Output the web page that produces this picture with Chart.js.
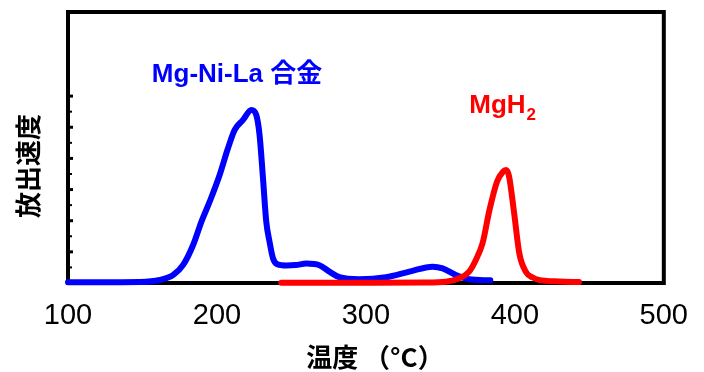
<!DOCTYPE html>
<html>
<head>
<meta charset="utf-8">
<script src="https://cdn.jsdelivr.net/npm/chart.js@4.4.1/dist/chart.umd.min.js"></script>
<style>
  html, body { margin: 0; padding: 0; background: #fff; }
  #wrap { position: relative; width: 704px; height: 372px; }
</style>
</head>
<body>
<div id="wrap"><canvas id="chart" width="704" height="372"></canvas></div>
<script>
// axis ticks
const xTicks = [100, 200, 300, 400, 500];
const yTicks = [1, 2, 3, 4, 5, 6, 7, 8, 9, 10, 11, 12];

// Mg-Ni-La alloy (blue)
const alloyTemp = [100, 130, 148.2, 161.6, 170.6, 177.3, 184.0, 189.6, 195.1, 201.8, 207.4, 211.9, 217.5, 223.1, 226.4, 228.6, 230.9, 233.1, 235.3, 237.6, 240.5, 246.5, 253, 259.9, 268.8, 275.5, 282.2, 295.6, 313.5, 329.2, 344.8, 351.5, 360.4, 369.3, 383.5];
const alloyRate = [0.05, 0.05, 0.06, 0.19, 0.51, 1.16, 2.44, 3.94, 5.22, 6.94, 8.65, 9.83, 10.47, 11.11, 10.79, 9.51, 6.74, 3.94, 2.65, 1.59, 1.2, 1.12, 1.15, 1.25, 1.14, 0.73, 0.37, 0.24, 0.37, 0.73, 1.05, 0.94, 0.51, 0.24, 0.17];

// MgH2 (red)
const mgh2Temp = [243.2, 300, 340, 353.7, 362.7, 369.3, 373.8, 378.3, 383, 388, 392, 394, 396, 399.5, 403, 407.5, 412, 416, 430, 443];
const mgh2Rate = [0.02, 0.02, 0.03, 0.08, 0.3, 0.73, 1.48, 2.55, 4.7, 6.5, 7.15, 7.25, 6.9, 4.5, 1.9, 0.7, 0.35, 0.2, 0.1, 0.06];

// text labels placed in data units
const alloyLabel = { text: "Mg-Ni-La 合金", x: 156.3, y: 12.9 };
const mgh2Label = { text: "MgH", sub: "2", x: 369.4, y: 10.9 };

const toPoints = (xs, ys) => xs.map((x, i) => ({ x: x, y: ys[i] }));

const framePlugin = {
  id: "frame",
  beforeDatasetsDraw(chart) {
    const { ctx, chartArea: a, scales: { y } } = chart;
    ctx.save();
    ctx.strokeStyle = "#000";
    ctx.lineWidth = 4;
    ctx.strokeRect(a.left, a.top, a.right - a.left, a.bottom - a.top);
    // little inward ticks on the left edge
    y.ticks.forEach((t) => {
      const py = y.getPixelForValue(t.value);
      const major = t.value % 2 === 0;
      ctx.lineWidth = major ? 3 : 2;
      ctx.beginPath();
      ctx.moveTo(a.left, py);
      ctx.lineTo(a.left + (major ? 5 : 4), py);
      ctx.stroke();
    });
    ctx.restore();
  },
  afterDraw(chart) {
    const { ctx, chartArea: a, scales: { x, y } } = chart;
    ctx.save();
    ctx.fillStyle = "#000";
    ctx.textBaseline = "middle";
    ctx.textAlign = "center";

    // x title
    ctx.font = 'bold 26px "Noto Sans CJK JP", sans-serif';
    ctx.fillText("温度 （°C）", (a.left + a.right) / 2 + 9, 357);

    // y title
    ctx.save();
    ctx.translate(28, 166);
    ctx.rotate(-Math.PI / 2);
    ctx.font = 'bold 26px "Noto Sans CJK JP", sans-serif';
    ctx.fillText("放出速度", 0, 0);
    ctx.restore();

    // series labels
    ctx.textAlign = "left";
    ctx.textBaseline = "alphabetic";
    ctx.fillStyle = "#0000ff";
    ctx.font = 'bold 26px "Liberation Sans", "Noto Sans CJK JP", sans-serif';
    ctx.fillText(alloyLabel.text, x.getPixelForValue(alloyLabel.x), y.getPixelForValue(alloyLabel.y));

    ctx.fillStyle = "#ff0000";
    const lx = x.getPixelForValue(mgh2Label.x);
    const ly = y.getPixelForValue(mgh2Label.y);
    ctx.fillText(mgh2Label.text, lx, ly);
    const w = ctx.measureText(mgh2Label.text).width;
    ctx.font = 'bold 17px "Liberation Sans", sans-serif';
    ctx.fillText(mgh2Label.sub, lx + w + 1, ly + 7);
    ctx.restore();
  }
};

new Chart(document.getElementById("chart"), {
  type: "line",
  data: {
    datasets: [
      {
        label: "MgH2",
        data: toPoints(mgh2Temp, mgh2Rate),
        borderColor: "#ff0000",
        borderWidth: 6,
        pointRadius: 0,
        cubicInterpolationMode: "monotone",
        borderCapStyle: "round",
        borderJoinStyle: "round",
        clip: false,
        order: 0
      },
      {
        label: "Mg-Ni-La",
        data: toPoints(alloyTemp, alloyRate),
        borderColor: "#0000ff",
        borderWidth: 6,
        pointRadius: 0,
        cubicInterpolationMode: "monotone",
        borderCapStyle: "round",
        borderJoinStyle: "round",
        clip: false,
        order: 1
      }
    ]
  },
  options: {
    responsive: false,
    animation: false,
    devicePixelRatio: 1,
    layout: { padding: { top: 12, right: 39, left: 0, bottom: 0 } },
    plugins: {
      legend: { display: false },
      tooltip: { enabled: false }
    },
    scales: {
      x: {
        type: "linear",
        min: 100,
        max: 500,
        grid: { display: false, drawTicks: false },
        border: { display: false },
        afterBuildTicks: (s) => { s.ticks = xTicks.map((v) => ({ value: v })); },
        afterFit: (s) => { s.height = 89; },
        ticks: {
          autoSkip: false,
          maxRotation: 0,
          padding: 16,
          color: "#000",
          font: { family: "Liberation Sans", size: 29 }
        }
      },
      y: {
        type: "linear",
        min: 0,
        max: 17.4,
        grid: { display: false, drawTicks: false },
        border: { display: false },
        afterBuildTicks: (s) => { s.ticks = yTicks.map((v) => ({ value: v })); },
        afterFit: (s) => { s.width = 68; },
        ticks: { display: false }
      }
    }
  },
  plugins: [framePlugin]
});
</script>
</body>
</html>
